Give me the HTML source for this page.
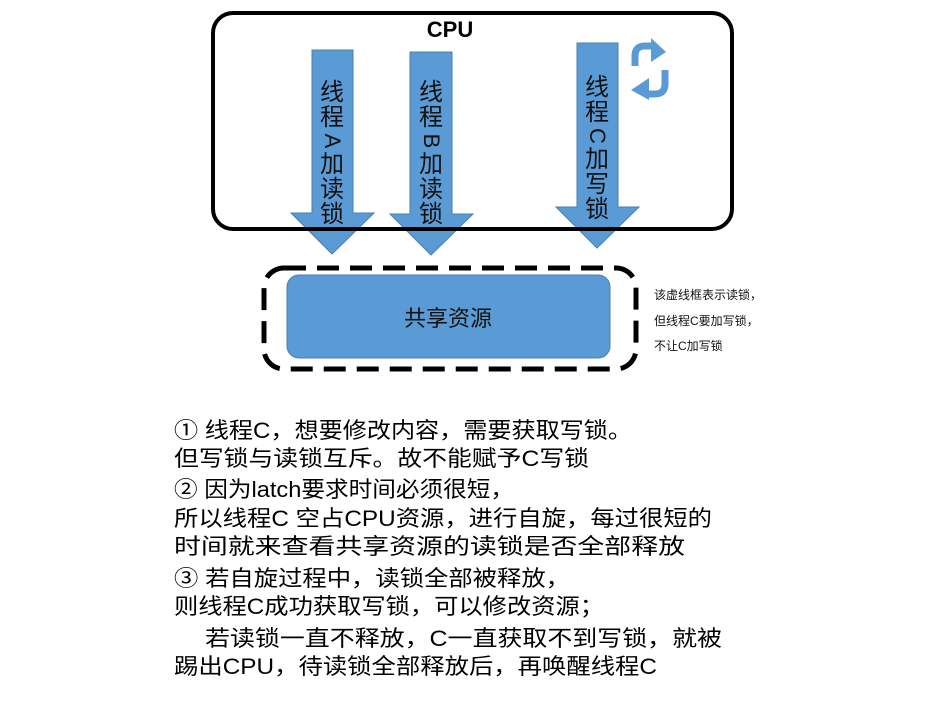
<!DOCTYPE html>
<html><head><meta charset="utf-8"><style>
html,body{margin:0;padding:0;background:#fff;}
svg{display:block;}
text{font-family:"Liberation Sans","Noto Sans CJK SC",sans-serif;}
</style></head><body>
<svg width="932" height="707" viewBox="0 0 932 707" xmlns="http://www.w3.org/2000/svg">
<text x="450" y="37" font-size="22" font-weight="bold" text-anchor="middle">CPU</text>
<!-- arrows -->
<g fill="#5b9bd5" stroke="#4a7fb0" stroke-width="1">
<polygon points="312,50 353,50 353,213 374,213 332,254 291,213 312,213"/>
<polygon points="410,52 452,52 452,214 473,214 431,255 390,214 410,214"/>
<polygon points="577,43 618,43 618,207 639,207 597,248 556,207 577,207"/>
</g>
<rect x="213" y="13" width="519" height="216" rx="20" fill="none" stroke="#000" stroke-width="4"/>
<g font-size="24" fill="#111" text-anchor="middle">
<text x="332" y="100">线</text><text x="332" y="125">程</text>
<text x="332" y="148" font-size="22" transform="rotate(90 332 141)">A</text>
<text x="332" y="172">加</text><text x="332" y="197">读</text><text x="332" y="222">锁</text>
<text x="431" y="100">线</text><text x="431" y="125">程</text>
<text x="431" y="148" font-size="22" transform="rotate(90 431 141)">B</text>
<text x="431" y="172">加</text><text x="431" y="197">读</text><text x="431" y="222">锁</text>
<text x="597" y="95">线</text><text x="597" y="120">程</text>
<text x="597" y="143" font-size="22" transform="rotate(90 597 136)">C</text>
<text x="597" y="167">加</text><text x="597" y="192">写</text><text x="597" y="217">锁</text>
</g>
<!-- loop icon -->
<g fill="none" stroke="#5b9bd5" stroke-width="7">
<path d="M635,66 V56 Q635,46 645,46 H652"/>
<path d="M665,70 V84 Q665,94 655,94 H648"/>
</g>
<polygon points="651,38 666,52 651,62" fill="#5b9bd5"/>
<polygon points="649,78 631,90 649,100" fill="#5b9bd5"/>
<!-- dashed box -->
<rect x="264" y="268" width="372" height="101" rx="20" fill="none" stroke="#000" stroke-width="5" stroke-dasharray="22,11"/>
<rect x="287" y="275" width="323" height="83" rx="12" fill="#5b9bd5" stroke="#4a7fb0"/>
<text x="448" y="326" font-size="22" text-anchor="middle" fill="#111">共享资源</text>
<g font-size="12" fill="#111">
<text x="654" y="299">该虚线框表示读锁，</text>
<text x="654" y="325">但线程C要加写锁，</text>
<text x="654" y="350">不让C加写锁</text>
</g>
<g font-size="22" fill="#000">
<text x="174" y="438" textLength="458" lengthAdjust="spacingAndGlyphs">① 线程C，想要修改内容，需要获取写锁。</text>
<text x="174" y="466" textLength="415" lengthAdjust="spacingAndGlyphs">但写锁与读锁互斥。故不能赋予C写锁</text>
<text x="174" y="497" textLength="340" lengthAdjust="spacingAndGlyphs">② 因为latch要求时间必须很短，</text>
<text x="174" y="526" textLength="538" lengthAdjust="spacingAndGlyphs">所以线程C 空占CPU资源，进行自旋，每过很短的</text>
<text x="174" y="554" textLength="511" lengthAdjust="spacingAndGlyphs">时间就来查看共享资源的读锁是否全部释放</text>
<text x="174" y="586" textLength="396" lengthAdjust="spacingAndGlyphs">③ 若自旋过程中，读锁全部被释放，</text>
<text x="174" y="614" textLength="430" lengthAdjust="spacingAndGlyphs">则线程C成功获取写锁，可以修改资源；</text>
<text x="205" y="646" textLength="517" lengthAdjust="spacingAndGlyphs">若读锁一直不释放，C一直获取不到写锁，就被</text>
<text x="174" y="674" textLength="483" lengthAdjust="spacingAndGlyphs">踢出CPU，待读锁全部释放后，再唤醒线程C</text>
</g>
</svg>
</body></html>
